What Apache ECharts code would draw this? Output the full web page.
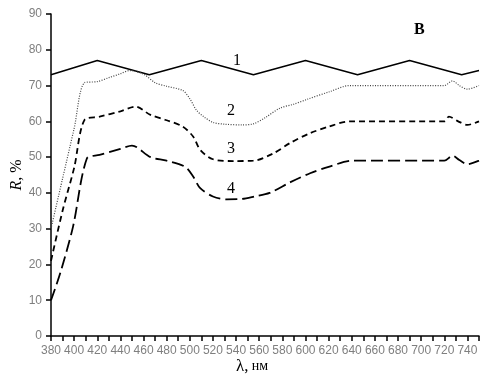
<!DOCTYPE html>
<html><head><meta charset="utf-8">
<script src="https://cdn.jsdelivr.net/npm/echarts@6/dist/echarts.min.js"></script>
<style>html,body{margin:0;padding:0;background:#fff}#c{width:490px;height:381px}</style>
</head><body><div id="c"></div>
<script>
// wavelength (nm) and reflectance (%) pairs
const curve1X = [380, 420, 465, 510, 555, 600, 645, 690, 735, 750];
const curve1Y = [73, 77, 73, 77, 73, 77, 73, 77, 73, 74.2];

const curve2X = [380, 390, 400, 409, 420, 430, 440, 448, 460, 470, 480, 494, 500, 506, 512, 520, 530, 545, 555, 565, 578, 590, 601, 621, 638, 720, 727, 733, 740, 750];
const curve2Y = [30, 44, 58, 70.8, 71.1, 72.2, 73.3, 74.2, 73.2, 70.8, 69.8, 68.6, 66.3, 63, 61.3, 59.7, 59.2, 59, 59.3, 61, 63.7, 64.8, 66.1, 68.3, 70, 70, 71.3, 70, 69, 70];

const curve3X = [380, 390, 400, 409, 422, 440, 453, 466, 480, 494, 503, 509, 520, 538, 555, 572, 587, 604, 620, 638, 720, 724, 732, 740, 750];
const curve3Y = [21, 35, 47, 60.4, 61.3, 62.8, 64.1, 61.8, 60.3, 58.5, 55.7, 52, 49.4, 48.9, 49, 51, 54, 56.7, 58.5, 60, 60, 61.3, 60, 59, 60];

const curve4X = [380, 388, 399, 411, 422, 440, 450, 466, 480, 496, 503, 509, 520, 532, 545, 556, 569, 587, 604, 620, 641, 720, 727, 733, 740, 750];
const curve4Y = [10, 17.6, 30.5, 49.6, 50.6, 52.3, 53.2, 50, 49, 47.3, 44.5, 41.3, 39, 38.2, 38.3, 39, 40, 43, 45.5, 47.3, 49, 49, 50.4, 49.2, 48, 49];

const xMin = 380, xMax = 750, xStep = 10;
const yMin = 0, yMax = 90, yStep = 10;
const curveLabels = ['1', '2', '3', '4'];
const panelLabel = 'В';

function pairs(xs, ys) { return xs.map((x, i) => [x, ys[i]]); }

const chart = echarts.init(document.getElementById('c'), null, {renderer: 'canvas'});
const axisLineStyle = {color: '#000', width: 1.5};
const tickStyle = {color: '#000', width: 1.5};
chart.setOption({
  animation: false,
  grid: {left: 51, right: 11, top: 14, bottom: 45},
  xAxis: {
    type: 'value', min: xMin, max: xMax, interval: xStep,
    axisLine: {onZero: false, lineStyle: axisLineStyle},
    axisTick: {show: true, inside: false, length: 5, lineStyle: tickStyle},
    splitLine: {show: false},
    axisLabel: {
      color: '#7f7f7f', fontFamily: 'Liberation Sans', fontSize: 12, margin: 9,
      formatter: v => (v % 20 === 0 ? String(v) : '')
    }
  },
  yAxis: {
    type: 'value', min: yMin, max: yMax, interval: yStep,
    axisLine: {show: true, onZero: false, lineStyle: axisLineStyle},
    axisTick: {show: true, inside: false, length: 5, lineStyle: tickStyle},
    splitLine: {show: false},
    axisLabel: {color: '#7f7f7f', fontFamily: 'Liberation Sans', fontSize: 12, margin: 9}
  },
  series: [
    {type: 'line', data: pairs(curve1X, curve1Y), symbol: 'none', smooth: false,
     lineStyle: {color: '#000', width: 1.5, type: 'solid'}},
    {type: 'line', data: pairs(curve2X, curve2Y), symbol: 'none', smooth: 0.3,
     lineStyle: {color: '#444', width: 1.2, type: [1, 1.5]}},
    {type: 'line', data: pairs(curve3X, curve3Y), symbol: 'none', smooth: 0.3,
     lineStyle: {color: '#000', width: 1.8, type: [6, 4]}},
    {type: 'line', data: pairs(curve4X, curve4Y), symbol: 'none', smooth: 0.3,
     lineStyle: {color: '#000', width: 1.8, type: [12, 5]}}
  ],
  graphic: [
    {type: 'text', x: 17, y: 175, rotation: Math.PI / 2, style: {
      text: '{i|R}{n|, %}', align: 'center', verticalAlign: 'middle',
      rich: {
        i: {fontFamily: 'Liberation Serif', fontStyle: 'italic', fontSize: 16, fill: '#000'},
        n: {fontFamily: 'Liberation Serif', fontSize: 16, fill: '#000'}
      }
    }},
    {type: 'text', left: 233, top: 53, style: {text: curveLabels[0], font: '16px "Liberation Serif"', fill: '#000'}},
    {type: 'text', left: 227, top: 103, style: {text: curveLabels[1], font: '16px "Liberation Serif"', fill: '#000'}},
    {type: 'text', left: 227, top: 141, style: {text: curveLabels[2], font: '16px "Liberation Serif"', fill: '#000'}},
    {type: 'text', left: 227, top: 181, style: {text: curveLabels[3], font: '16px "Liberation Serif"', fill: '#000'}},
    {type: 'text', left: 414, top: 22, style: {text: panelLabel, font: 'bold 16px "Liberation Serif"', fill: '#000'}},
    {type: 'text', left: 236, top: 358, style: {
      text: '{l|λ,} {n|нм}',
      rich: {
        l: {fontFamily: 'Liberation Serif', fontSize: 17, fill: '#000'},
        n: {fontFamily: 'Liberation Serif', fontSize: 14, fill: '#000'}
      }
    }}
  ]
});
</script>
</body></html>
